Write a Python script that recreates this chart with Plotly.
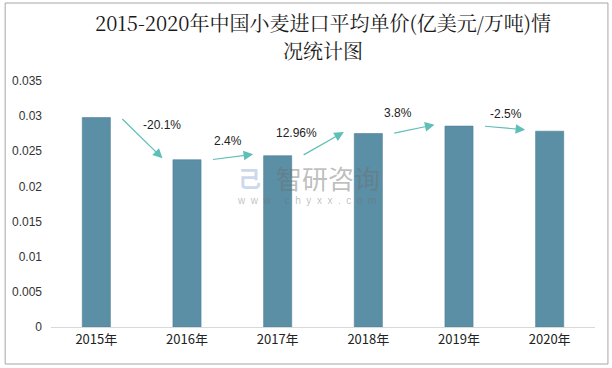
import plotly.graph_objects as go

years = ["2015年", "2016年", "2017年", "2018年", "2019年", "2020年"]
prices = [0.0298, 0.0238, 0.02437, 0.02753, 0.02858, 0.02786]
growth_labels = ["-20.1%", "2.4%", "12.96%", "3.8%", "-2.5%"]
y_ticks = [0, 0.005, 0.01, 0.015, 0.02, 0.025, 0.03, 0.035]
y_tick_text = ["0", "0.005", "0.01", "0.015", "0.02", "0.025", "0.03", "0.035"]
title_lines = ["2015-2020年中国小麦进口平均单价(亿美元/万吨)情", "况统计图"]

W, H = 612, 368
L, R, T, B = 49, 17, 81, 41
pw, ph = W - L - R, H - T - B

fig = go.Figure()
fig.add_trace(go.Bar(
    x=list(range(len(years))), y=prices,
    marker=dict(color="#5b8fa6", line=dict(color="#4d7f95", width=0.6)),
    width=0.31,
))

arrow_color = "#5dbfb6"
# label offsets (style) : dx in category units, dy in axis units
label_dx = [0.22, -0.05, -0.29, -0.17, 0.02]
label_dy = [-0.001, 0.0021, 0.0001, 0.0019, 0.0017]
annotations = []
for i, lab in enumerate(growth_labels):
    x0, y0 = i + 0.27, prices[i]
    x1, y1 = i + 1 - 0.27, prices[i + 1] + 0.0002
    annotations.append(dict(
        x=x1, y=y1, ax=x0, ay=y0, xref="x", yref="y", axref="x", ayref="y",
        text="", showarrow=True, arrowhead=2, arrowsize=1.6, arrowwidth=1.2,
        arrowcolor=arrow_color, standoff=0, startstandoff=0,
    ))
    annotations.append(dict(
        x=i + 0.5 + label_dx[i], y=max(prices[i], prices[i + 1]) + label_dy[i],
        xref="x", yref="y", text=lab, showarrow=False,
        font=dict(family="Liberation Sans, Arial", size=12, color="#222"),
    ))

# title lines
for text, cy in zip(title_lines, [23, 50]):
    annotations.append(dict(
        x=0.5, y=1 + (T - cy) / ph, xref="paper", yref="paper",
        xanchor="center", yanchor="middle", text=text, showarrow=False,
        font=dict(family="Noto Serif CJK SC, Noto Sans CJK SC", size=20, color="#1a1a1a"),
    ))

# watermark
wm = "rgba(110,110,110,0.45)"
annotations.append(dict(x=0.51, y=(327 - 177) / ph, xref="paper", yref="paper",
                        text="智研咨询", showarrow=False,
                        font=dict(family="Noto Sans CJK SC", size=26, color=wm)))
annotations.append(dict(x=0.47, y=(327 - 200) / ph, xref="paper", yref="paper",
                        text="w  w  w  .  c  h  y  x  x  .  c  o  m", showarrow=False,
                        font=dict(family="Liberation Sans", size=10, color=wm)))
annotations.append(dict(x=(248 - L) / pw, y=(327 - 177) / ph, xref="paper", yref="paper",
                        text="<b>己</b>", showarrow=False,
                        font=dict(family="Noto Sans CJK SC", size=23, color="rgba(140,170,215,0.45)")))

fig.update_layout(
    width=W, height=H,
    margin=dict(l=L, r=R, t=T, b=B),
    paper_bgcolor="white", plot_bgcolor="white",
    showlegend=False,
    xaxis=dict(
        tickmode="array", tickvals=list(range(len(years))), ticktext=years,
        range=[-0.5, len(years) - 0.5], showgrid=False, zeroline=False,
        showline=True, linecolor="#d9d9d9", linewidth=1, ticks="",
        tickfont=dict(family="Noto Sans CJK SC", size=13, color="#222"),
    ),
    yaxis=dict(
        range=[0, 0.035], tickmode="array", tickvals=y_ticks, ticktext=y_tick_text,
        showgrid=False, zeroline=False, showline=False, ticks="",
        tickfont=dict(family="Liberation Sans, Arial", size=12, color="#333"),
        ticklabelstandoff=8,
    ),
    annotations=annotations,
    shapes=[dict(
        type="rect", xref="paper", yref="paper",
        x0=(3 - L) / pw, x1=(608 - L) / pw,
        y0=1 - (364 - T) / ph, y1=1 - (3 - T) / ph,
        line=dict(color="#a6a6a6", width=1), layer="below",
    )],
)

fig.write_html("out.html", config={"displayModeBar": False},
               post_script="document.body.style.margin='0px';")
